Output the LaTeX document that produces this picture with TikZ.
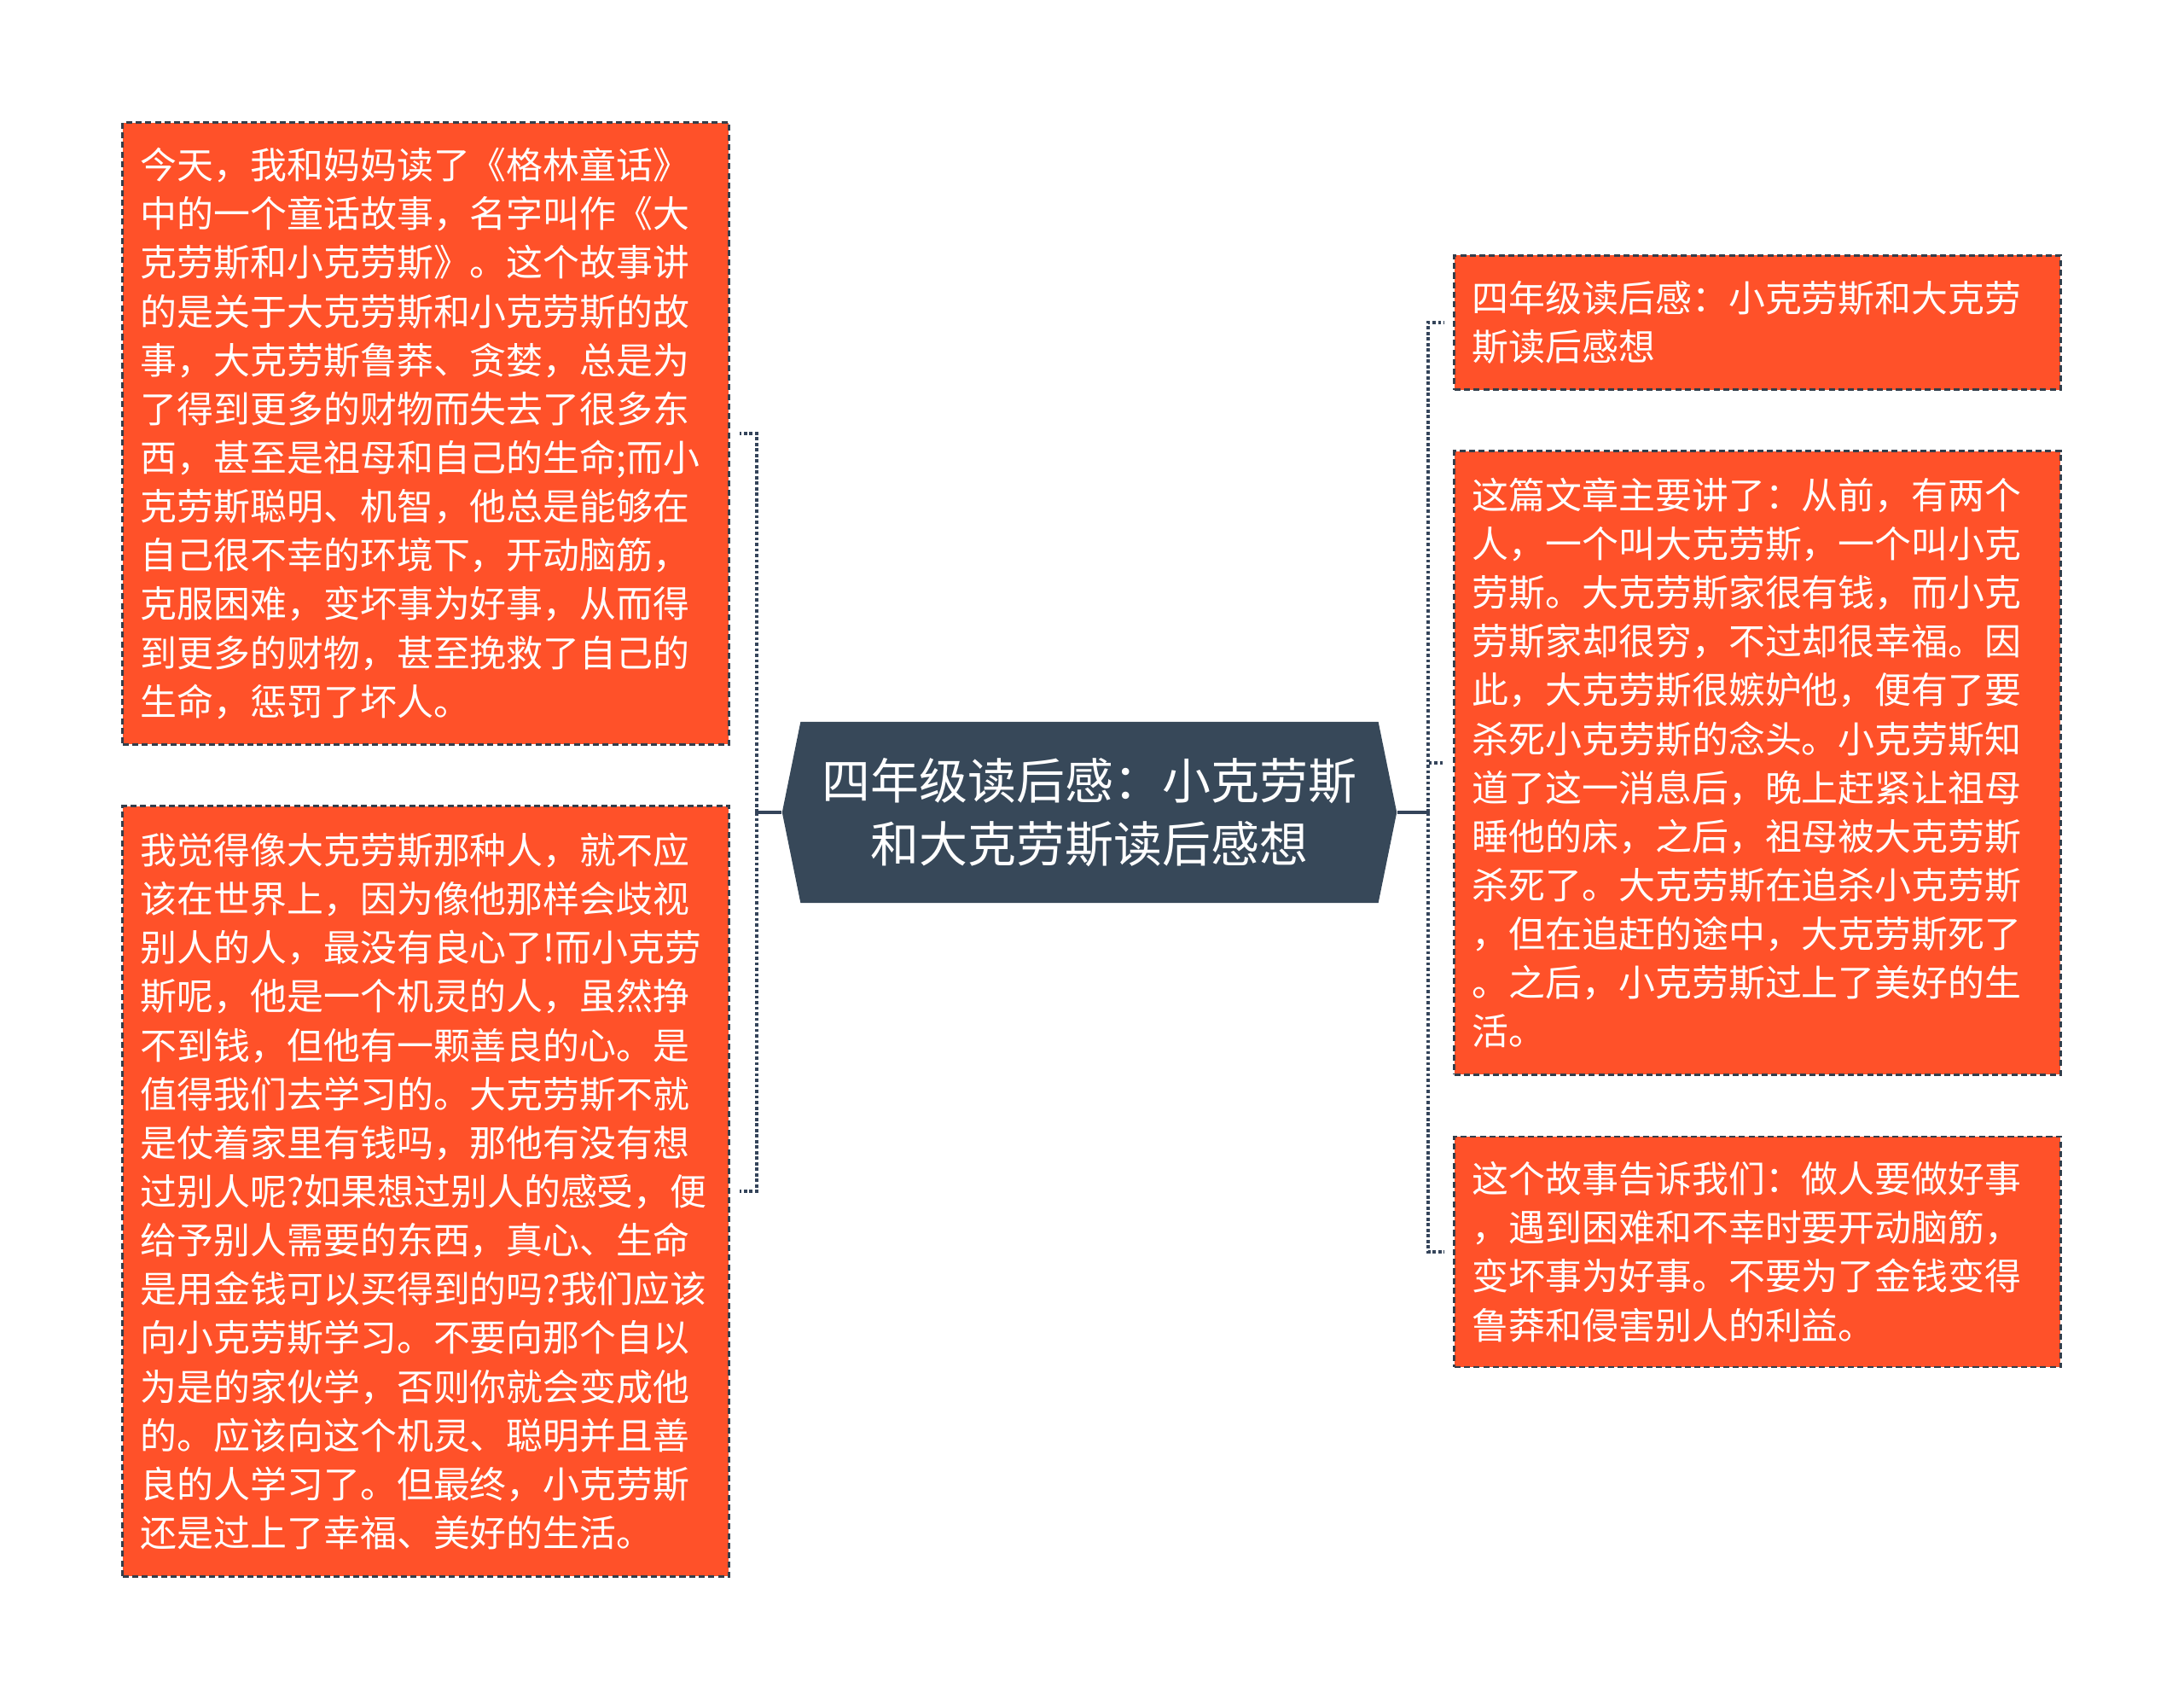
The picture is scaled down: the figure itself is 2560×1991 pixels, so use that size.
\documentclass[tikz,border=0pt]{standalone}
\usepackage{fontspec}
\setmainfont{Noto Sans CJK SC}
\usepackage{tikz}
\usetikzlibrary{positioning,shapes.symbols,calc}
\definecolor{leafred}{HTML}{FF5129}
\definecolor{leafedge}{HTML}{333E4B}
\definecolor{rootblk}{HTML}{374859}
\definecolor{linkclr}{HTML}{34445A}
\tikzset{
  leaf/.style  = {draw=leafedge,fill=leafred,text=white,line width=0.75pt,
                  dash pattern=on 2pt off 1.2pt,minimum width=7.1cm,
                  text width=6.68cm,align=left,inner xsep=0.21cm,inner ysep=0pt,
                  font=\fontsize{12.2}{16.25}\selectfont},
  root/.style  = {signal,signal to=west and east,signal pointer angle=157,
                  fill=rootblk,text=white,minimum width=7.2cm,
                  minimum height=2.12cm,align=center,
                  font=\fontsize{16.2}{20.9}\selectfont},
  spine/.style = {draw=linkclr,line width=1.25pt,dash pattern=on 1.05pt off 0.8pt},
  stem/.style  = {draw=linkclr,line width=0.9pt},
}

\begin{document}
\begin{tikzpicture}[x=0.01cm,y=-0.01cm]
  \useasboundingbox (0,0) rectangle (2560,1991);
  % Central topic
  \node[root] (root) at (1277,952)
      {四年级读后感：小克劳斯\\和大克劳斯读后感想};

  % Left branches
  \node[leaf,minimum height=7.28cm] (l1) at (499,508)
      {今天，我和妈妈读了《格林童话》\\
       中的一个童话故事，名字叫作《大\\
       克劳斯和小克劳斯》。这个故事讲\\
       的是关于大克劳斯和小克劳斯的故\\
       事，大克劳斯鲁莽、贪婪，总是为\\
       了得到更多的财物而失去了很多东\\
       西，甚至是祖母和自己的生命;而小\\
       克劳斯聪明、机智，他总是能够在\\
       自己很不幸的环境下，开动脑筋，\\
       克服困难，变坏事为好事，从而得\\
       到更多的财物，甚至挽救了自己的\\
       生命，惩罚了坏人。};
  \node[leaf,minimum height=9.02cm] (l2) at (499,1396)
      {我觉得像大克劳斯那种人，就不应\\
       该在世界上，因为像他那样会歧视\\
       别人的人，最没有良心了!而小克劳\\
       斯呢，他是一个机灵的人，虽然挣\\
       不到钱，但他有一颗善良的心。是\\
       值得我们去学习的。大克劳斯不就\\
       是仗着家里有钱吗，那他有没有想\\
       过别人呢?如果想过别人的感受，便\\
       给予别人需要的东西，真心、生命\\
       是用金钱可以买得到的吗?我们应该\\
       向小克劳斯学习。不要向那个自以\\
       为是的家伙学，否则你就会变成他\\
       的。应该向这个机灵、聪明并且善\\
       良的人学习了。但最终，小克劳斯\\
       还是过上了幸福、美好的生活。};

  % Right branches
  \node[leaf,minimum height=1.57cm] (r1) at (2060,378)
      {四年级读后感：小克劳斯和大克劳\\
       斯读后感想};
  \node[leaf,minimum height=7.30cm] (r2) at (2060,894)
      {这篇文章主要讲了：从前，有两个\\
       人，一个叫大克劳斯，一个叫小克\\
       劳斯。大克劳斯家很有钱，而小克\\
       劳斯家却很穷，不过却很幸福。因\\
       此，大克劳斯很嫉妒他，便有了要\\
       杀死小克劳斯的念头。小克劳斯知\\
       道了这一消息后，晚上赶紧让祖母\\
       睡他的床，之后，祖母被大克劳斯\\
       杀死了。大克劳斯在追杀小克劳斯\\
       ，但在追赶的途中，大克劳斯死了\\
       。之后，小克劳斯过上了美好的生\\
       活。};
  \node[leaf,minimum height=2.70cm] (r3) at (2060,1467)
      {这个故事告诉我们：做人要做好事\\
       ，遇到困难和不幸时要开动脑筋，\\
       变坏事为好事。不要为了金钱变得\\
       鲁莽和侵害别人的利益。};

  % Connectors
  \coordinate (lj) at (887,952);
  \coordinate (rj) at (1674,952);
  \draw[stem] (root.west) -- (lj);
  \draw[stem] (root.east) -- (rj);
  \foreach \n in {l1,l2}
    \draw[spine] (lj) |- ([xshift=0.11cm]\n.east);
  \foreach \n in {r1,r2,r3}
    \draw[spine] (rj) |- ([xshift=-0.1cm]\n.west);
\end{tikzpicture}
\end{document}
